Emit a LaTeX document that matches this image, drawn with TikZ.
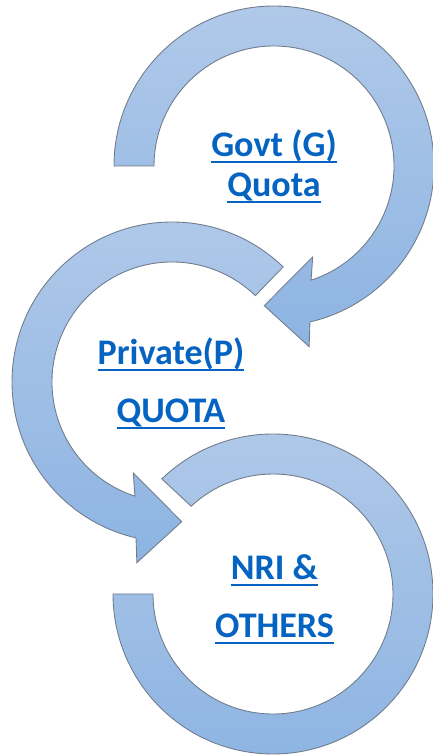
\documentclass[tikz,border=0pt]{standalone}
\usepackage{fontspec}
\setmainfont{Carlito}
\usepackage{tikz}
\usetikzlibrary{positioning}

\definecolor{bandtop}{RGB}{176,201,233}
\definecolor{bandbottom}{RGB}{141,180,226}
\definecolor{bandedge}{RGB}{112,124,140}
\definecolor{linkblue}{RGB}{5,99,193}

% underline at a fixed depth below the baseline
\newcommand{\quotaline}[1]{\setbox0\hbox{#1}\rlap{\rule[-0.165em]{\wd0}{0.055em}}\box0}

\tikzset{
	quotaband/.style={draw=bandedge, line width=0.5pt, top color=bandtop, bottom color=bandbottom},
	quotalabel/.style={anchor=base, inner sep=0pt, text=linkblue, font=\fontsize{20.5}{24}\selectfont\bfseries}
}

\begin{document}
\begin{tikzpicture}[x=0.02cm, y=0.02cm]
	\useasboundingbox (0,0) rectangle (433,755);
	\coordinate (c1) at (274,589); % centre of the top ring
	\coordinate (c2) at (172,373); % centre of the middle ring
	\coordinate (c3) at (273,161); % centre of the bottom ring

	% Ring (G), clockwise with arrow
	\begin{scope}[shift={(c1)}]
		\draw[quotaband] (180:160) arc[start angle=180, end angle=-77, radius=160] -- (-79:184) -- (-94:140) -- (-67:99) -- (-72:120) arc[start angle=-72, end angle=180, radius=120] -- cycle;
	\end{scope}

	% Ring (P), counter-clockwise with arrow
	\begin{scope}[shift={(c2)}]
		\draw[quotaband] (46:160) arc[start angle=46, end angle=257, radius=160] -- (259:184) -- (274:140) -- (247:99) -- (252:120) arc[start angle=252, end angle=46, radius=120] -- cycle;
	\end{scope}

	% Ring (NRI), clockwise, open end
	\begin{scope}[shift={(c3)}]
		\draw[quotaband] (134:160) arc[start angle=134, end angle=-180, radius=160] -- (-180:120) arc[start angle=-180, end angle=133, radius=120] -- cycle;
	\end{scope}

	\node[quotalabel] (govt) at (274,598) {\quotaline{Govt (G)}};
	\node[quotalabel] (govtquota) at (274,558) {\quotaline{Quota}};
	\node[quotalabel] (private) at (171,390) {\quotaline{Private(P)}};
	\node[quotalabel] (privatequota) at (171,332) {\quotaline{QUOTA}};
	\node[quotalabel] (nri) at (274.5,175) {\quotaline{NRI \&}};
	\node[quotalabel] (others) at (274.5,117) {\quotaline{OTHERS}};
\end{tikzpicture}
\end{document}
